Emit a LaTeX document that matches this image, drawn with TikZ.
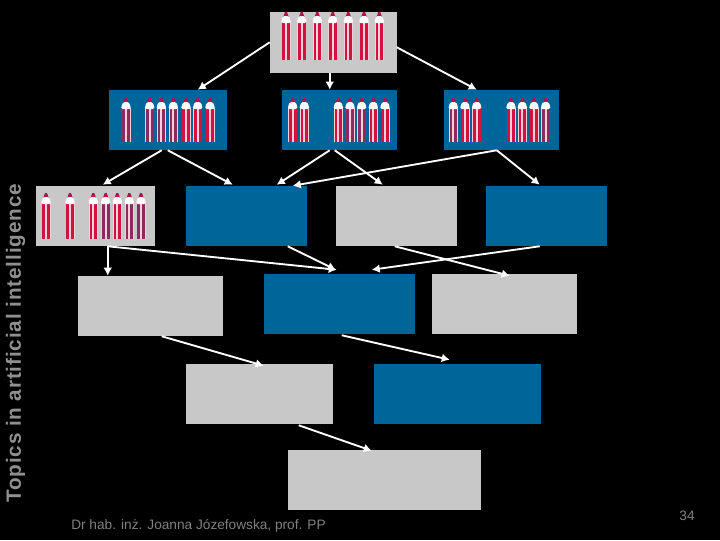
\documentclass[tikz,border=0pt]{standalone}
\usepackage{fontspec}
\setmainfont{Liberation Sans}
\newfontfamily\sidefont[LetterSpace=4.2]{Liberation Sans}
\usetikzlibrary{arrows.meta,calc}
\definecolor{boxgray}{HTML}{C8C8C8}
\definecolor{boxblue}{HTML}{00669A}
\definecolor{caption}{HTML}{808080}
\definecolor{sidegray}{HTML}{909090}
\definecolor{pred}{HTML}{D6103F}
\definecolor{pplum}{HTML}{8E2A62}
\definecolor{pcap}{HTML}{B5104A}
\definecolor{pedge}{HTML}{F8D0DC}
\tikzset{
  graybox/.style={fill=boxgray,inner sep=0pt},
  bluebox/.style={fill=boxblue,inner sep=0pt},
  footer/.style={text=caption,font=\fontsize{10.25}{12}\selectfont},
  sidetitle/.style={text=sidegray,font=\sidefont\bfseries\fontsize{15.5}{18}\selectfont,rotate=90},
  arrow/.style={draw=white,line width=1.4pt,-{Latex[length=6pt,width=6.5pt]}}
}
% one pencil: centre x, top y, bottom y, tint
\newcommand{\pencilat}[4]{
  \fill[pedge] (#1-4.5,#2+10) rectangle (#1+4.5,#3);
  \fill[#4] (#1-3.8,#2+10) rectangle (#1+3.8,#3);
  \fill[pedge] (#1-0.9,#2+10) rectangle (#1+0.9,#3);
  \fill[pcap] (#1-1,#2) -- (#1+1,#2) -- (#1+2.6,#2+4.5) -- (#1-2.6,#2+4.5) -- cycle;
  \fill[white,rounded corners=1pt] (#1-2.6,#2+4) -- (#1+2.6,#2+4)
    -- (#1+4.6,#2+8) -- (#1+4.6,#2+11) -- (#1-4.6,#2+11) -- (#1-4.6,#2+8) -- cycle;
}
\begin{document}
\begin{tikzpicture}[x=0.75pt,y=-0.75pt]

\fill[black] (0,0) rectangle (720,540);
\useasboundingbox (0,0) rectangle (720,540);

\foreach \name/\cx/\cy/\boxw/\boxh/\kind in {
  root/333.5/42.5/127/61/graybox,
  left/168/120/118/60/bluebox,
  mid/339.5/120/115/60/bluebox,
  right/501.5/120/115/60/bluebox,
  pile/95.5/216/119/60/graybox,
  tl/246.5/216/121/60/bluebox,
  tm/396.5/216/121/60/graybox,
  tr/546.5/216/121/60/bluebox,
  ul/150.5/306/145/60/graybox,
  um/339.5/304/151/60/bluebox,
  ur/504.5/304/145/60/graybox,
  vl/259.5/394/147/60/graybox,
  vr/457.5/394/167/60/bluebox,
  last/384.5/480/193/60/graybox} {
  \node[\kind,minimum width=\boxw*0.75pt,minimum height=\boxh*0.75pt] (\name) at (\cx,\cy) {};
}

% pencils in the boxes
\foreach \x in {286,301.7,317.3,332.7,348.3,364,379.3} {
  \pencilat{\x}{12}{60}{pred}
}
\foreach \x/\tint in {126/pplum,149.7/pplum,161.3/pplum,173.3/pplum,186/pred,197.7/pred,210/pred} {
  \pencilat{\x}{98}{142}{\tint}
}
\foreach \x/\tint in {292.7/pred,304.3/pred,338.3/pred,350/pplum,361.7/pplum,373.3/pred,385/pred} {
  \pencilat{\x}{98}{142}{\tint}
}
\foreach \x/\tint in {453.3/pplum,465/pred,476.7/pred,511/pred,522.3/pred,534/pred,545.7/pplum} {
  \pencilat{\x}{98}{142}{\tint}
}
\foreach \x/\tint in {46/pred,70/pred,93.3/pred,105.7/pplum,117.3/pred,129.3/pplum,141/pplum} {
  \pencilat{\x}{193}{239}{\tint}
}

% connectors: offsets from the corners of both boxes
\foreach \source/\fx/\fy/\target/\tx/\ty in {
  root/0/-31/left/89/0,
  root/60/0/mid/48/0,
  root/127/-26/right/33/0,
  left/53/0/pile/67/-1,
  left/59/0/tl/47/-1,
  mid/48/0/tl/91/-1,
  mid/53/0/tm/47/-1,
  right/53/0/tl/107/0,
  right/53/0/tr/54/-1,
  pile/72/0/ul/30/0,
  pile/72/0/um/73/-4,
  tl/102/0/um/72/-4,
  tr/54/0/um/108/-4,
  tm/59/0/ur/78/2,
  ul/84/0/vl/78/2,
  um/78/1/vr/76/-4,
  vl/113/1/last/84/1} {
  \draw[arrow] ($(\source.south west)+(\fx,\fy)$) -- ($(\target.north west)+(\tx,\ty)$);
}

\node[sidetitle] (title) at (15.5,343.5) {Topics in artificial intelligence};
\node[footer] (author) at (198.5,526) {Dr hab. inż. Joanna Józefowska, prof. PP};
\node[footer] (page) at (687,516) {34};

\end{tikzpicture}
\end{document}
